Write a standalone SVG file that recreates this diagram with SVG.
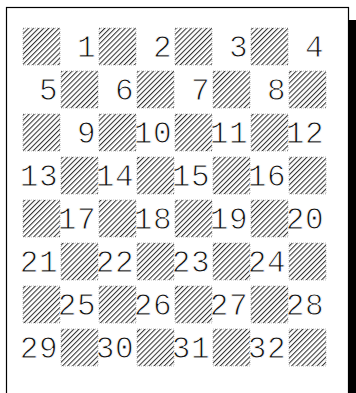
<svg xmlns="http://www.w3.org/2000/svg" width="356" height="393" viewBox="0 0 356 393">
<style>
.sh{fill:url(#hatch);stroke:#999;stroke-width:0.6;stroke-dasharray:1 1}
.n{font-family:"Liberation Mono","Courier New",monospace;font-size:31px;fill:#111;stroke:#fff;stroke-width:0.9;text-anchor:end;letter-spacing:0.5px}
</style>
<defs>
<pattern id="hatch" patternUnits="userSpaceOnUse" width="3.6" height="10" patternTransform="rotate(45)">
<rect width="3.6" height="10" fill="#fff"/>
<rect x="0" y="0" width="1.05" height="10" fill="#333"/>
</pattern>
</defs>
<rect x="0" y="0" width="356" height="393" fill="#fff"/>
<rect id="shadow" x="349" y="20" width="10" height="380" fill="#000"/>
<rect id="frame" x="6.5" y="7.5" width="342" height="400" fill="none" stroke="#000" stroke-width="1.2"/>
<g id="row1"><rect class="sh" x="23" y="28" width="37" height="37"/><text class="n" x="96" y="57">1</text><rect class="sh" x="99" y="28" width="37" height="37"/><text class="n" x="172" y="57">2</text><rect class="sh" x="175" y="28" width="37" height="37"/><text class="n" x="248" y="57">3</text><rect class="sh" x="251" y="28" width="37" height="37"/><text class="n" x="324" y="57">4</text></g>
<g id="row2"><text class="n" x="58" y="100">5</text><rect class="sh" x="61" y="71" width="37" height="37"/><text class="n" x="134" y="100">6</text><rect class="sh" x="137" y="71" width="37" height="37"/><text class="n" x="210" y="100">7</text><rect class="sh" x="213" y="71" width="37" height="37"/><text class="n" x="286" y="100">8</text><rect class="sh" x="289" y="71" width="37" height="37"/></g>
<g id="row3"><rect class="sh" x="23" y="114" width="37" height="37"/><text class="n" x="96" y="143">9</text><rect class="sh" x="99" y="114" width="37" height="37"/><text class="n" x="172" y="143">10</text><rect class="sh" x="175" y="114" width="37" height="37"/><text class="n" x="248" y="143">11</text><rect class="sh" x="251" y="114" width="37" height="37"/><text class="n" x="324" y="143">12</text></g>
<g id="row4"><text class="n" x="58" y="186">13</text><rect class="sh" x="61" y="157" width="37" height="37"/><text class="n" x="134" y="186">14</text><rect class="sh" x="137" y="157" width="37" height="37"/><text class="n" x="210" y="186">15</text><rect class="sh" x="213" y="157" width="37" height="37"/><text class="n" x="286" y="186">16</text><rect class="sh" x="289" y="157" width="37" height="37"/></g>
<g id="row5"><rect class="sh" x="23" y="200" width="37" height="37"/><text class="n" x="96" y="229">17</text><rect class="sh" x="99" y="200" width="37" height="37"/><text class="n" x="172" y="229">18</text><rect class="sh" x="175" y="200" width="37" height="37"/><text class="n" x="248" y="229">19</text><rect class="sh" x="251" y="200" width="37" height="37"/><text class="n" x="324" y="229">20</text></g>
<g id="row6"><text class="n" x="58" y="272">21</text><rect class="sh" x="61" y="243" width="37" height="37"/><text class="n" x="134" y="272">22</text><rect class="sh" x="137" y="243" width="37" height="37"/><text class="n" x="210" y="272">23</text><rect class="sh" x="213" y="243" width="37" height="37"/><text class="n" x="286" y="272">24</text><rect class="sh" x="289" y="243" width="37" height="37"/></g>
<g id="row7"><rect class="sh" x="23" y="286" width="37" height="37"/><text class="n" x="96" y="315">25</text><rect class="sh" x="99" y="286" width="37" height="37"/><text class="n" x="172" y="315">26</text><rect class="sh" x="175" y="286" width="37" height="37"/><text class="n" x="248" y="315">27</text><rect class="sh" x="251" y="286" width="37" height="37"/><text class="n" x="324" y="315">28</text></g>
<g id="row8"><text class="n" x="58" y="358">29</text><rect class="sh" x="61" y="329" width="37" height="37"/><text class="n" x="134" y="358">30</text><rect class="sh" x="137" y="329" width="37" height="37"/><text class="n" x="210" y="358">31</text><rect class="sh" x="213" y="329" width="37" height="37"/><text class="n" x="286" y="358">32</text><rect class="sh" x="289" y="329" width="37" height="37"/></g>
</svg>
